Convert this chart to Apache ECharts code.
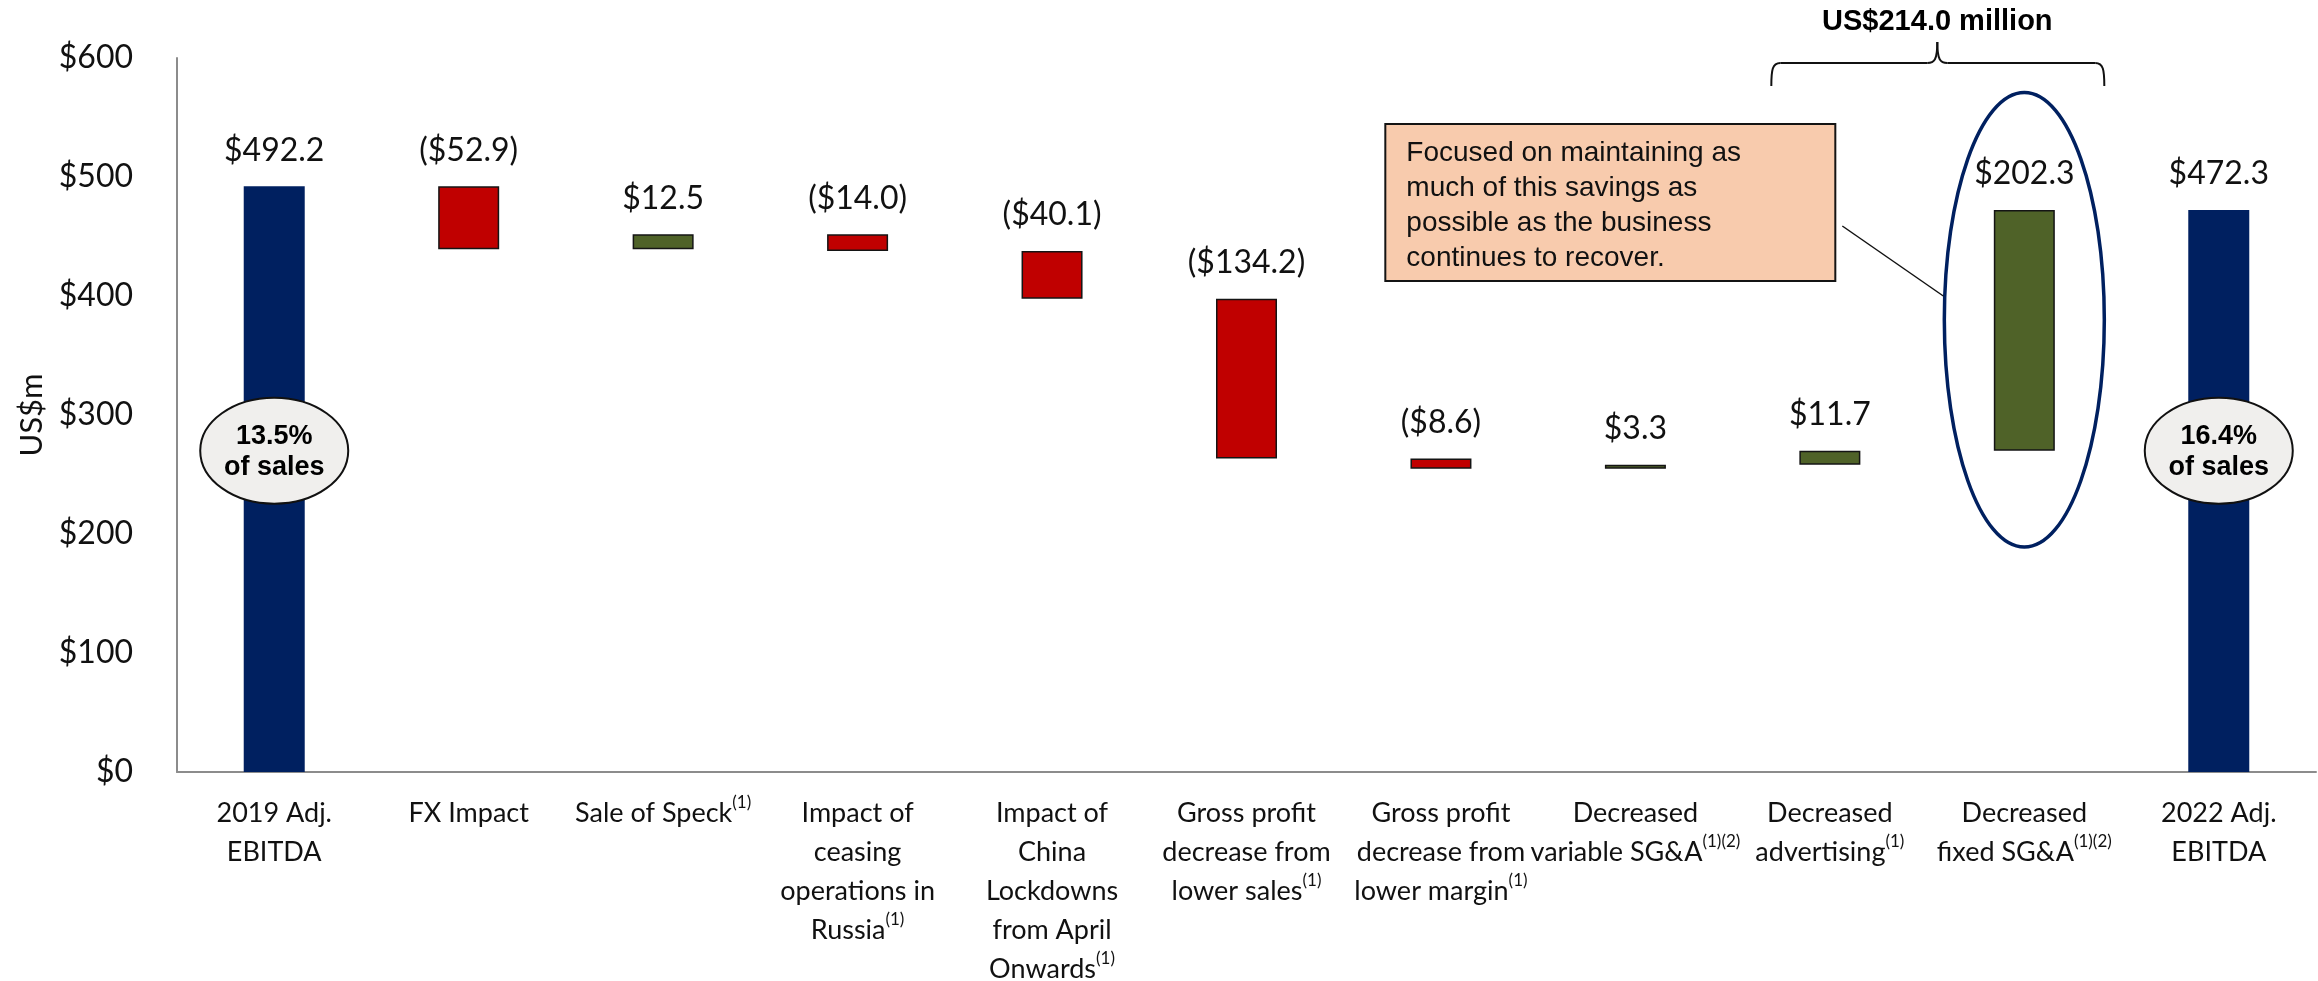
<!DOCTYPE html>
<html>
<head>
<meta charset="utf-8">
<script src="https://cdn.jsdelivr.net/npm/echarts@6/dist/echarts.min.js"></script>
<style>
  html, body { margin: 0; padding: 0; background: #ffffff; }
  #chart { width: 2318px; height: 981px; }
</style>
</head>
<body>
<div id="chart"></div>
<script>
// EBITDA bridge, 2019 -> 2022 (US$m)
const categories = [
  '2019 Adj.\nEBITDA',
  'FX Impact',
  'Sale of Speck',
  'Impact of\nceasing\noperations in\nRussia',
  'Impact of\nChina\nLockdowns\nfrom April\nOnwards',
  'Gross profit\ndecrease from\nlower sales',
  'Gross profit\ndecrease from\nlower margin',
  'Decreased\nvariable SG&A',
  'Decreased\nadvertising',
  'Decreased\nfixed SG&A',
  '2022 Adj.\nEBITDA'
];
const footnotes = ['', '', '(1)', '(1)', '(1)', '(1)', '(1)', '(1)(2)', '(1)', '(1)(2)', ''];
const changes = [492.2, -52.9, 12.5, -14.0, -40.1, -134.2, -8.6, 3.3, 11.7, 202.3, 472.3];
const isTotal = [true, false, false, false, false, false, false, false, false, false, true];
const yTicks = [0, 100, 200, 300, 400, 500, 600];
const marginLabels = ['13.5%\nof sales', '16.4%\nof sales'];
const savingsLabel = 'US$214.0 million';
const calloutText = 'Focused on maintaining as\nmuch of this savings as\npossible as the business\ncontinues to recover.';

const NAVY = '#002060', RED = '#C00000', GREEN = '#4F6228';

// floating bars: invisible base + visible step
const baseVals = [], stepVals = [];
let running = 0;
changes.forEach((v, i) => {
  if (isTotal[i]) {
    baseVals.push(0);
    stepVals.push({ value: v, itemStyle: { color: NAVY, borderWidth: 0 } });
    running = v;
  } else {
    const end = running + v;
    baseVals.push(Math.min(running, end));
    stepVals.push({
      value: Math.abs(v),
      itemStyle: { color: v < 0 ? RED : GREEN, borderColor: '#141414', borderWidth: 1.5 }
    });
    running = end;
  }
});

const fmtMoney = (v, total) => {
  const s = '$' + Math.abs(v).toFixed(1);
  return (!total && v < 0) ? '(' + s + ')' : s;
};

const chart = echarts.init(document.getElementById('chart'), null, { renderer: 'canvas' });
const LABEL_FONT = 'Lato, "Open Sans", sans-serif';

chart.setOption({
  animation: false,
  backgroundColor: '#ffffff',
  grid: { left: 177, right: 2, top: 58, bottom: 209, containLabel: false, outerBoundsMode: 'none' },
  xAxis: {
    type: 'category',
    data: categories,
    axisLine: { lineStyle: { color: '#8c8c8c', width: 2 } },
    axisTick: { show: false },
    axisLabel: {
      interval: 0,
      margin: 22,
      color: '#111111',
      fontFamily: LABEL_FONT,
      fontSize: 27,
      lineHeight: 39,
      formatter: (val, idx) => footnotes[idx] ? val + '{sup|' + footnotes[idx] + '}' : val,
      rich: {
        sup: { fontFamily: LABEL_FONT, fontSize: 17, lineHeight: 39, verticalAlign: 'top', color: '#111111' }
      }
    }
  },
  yAxis: {
    type: 'value',
    min: yTicks[0],
    max: yTicks[yTicks.length - 1],
    interval: yTicks[1] - yTicks[0],
    name: 'US$m',
    nameLocation: 'middle',
    nameGap: 130,
    nameTextStyle: { fontFamily: LABEL_FONT, fontSize: 31, color: '#111111' },
    axisLine: { show: true, lineStyle: { color: '#8c8c8c', width: 2 } },
    axisTick: { show: false },
    splitLine: { show: false },
    axisLabel: {
      margin: 44,
      color: '#111111',
      fontFamily: LABEL_FONT,
      fontSize: 32,
      formatter: v => '$' + v
    }
  },
  series: [
    {
      type: 'bar', stack: 'bridge', barWidth: 61, silent: true,
      itemStyle: { color: 'rgba(0,0,0,0)' },
      data: baseVals
    },
    {
      type: 'bar', stack: 'bridge', barWidth: 61, silent: true,
      data: stepVals,
      label: {
        show: true,
        position: 'top',
        distance: 20,
        fontFamily: LABEL_FONT,
        fontSize: 32,
        color: '#111111',
        formatter: p => fmtMoney(changes[p.dataIndex], isTotal[p.dataIndex])
      }
    }
  ]
});

// annotations anchored to the axes
const px = (c, v) => chart.convertToPixel({ gridIndex: 0 }, [c, v]);
const first = 0, last = categories.length - 1, fixedIdx = 9;
const marginLevel = 270;
const ringCenter = 380, ringHalf = 191;

const graphics = [];
[first, last].forEach((ci, k) => {
  const [cx, cy] = px(ci, marginLevel);
  graphics.push({
    type: 'ellipse', z: 100,
    shape: { cx: cx, cy: cy, rx: 74, ry: 53 },
    style: { fill: '#F0EFED', stroke: '#111111', lineWidth: 2 }
  });
  graphics.push({
    type: 'text', z: 101,
    style: {
      text: marginLabels[k], x: cx, y: cy + 1,
      align: 'center', verticalAlign: 'middle',
      font: 'bold 27px "Liberation Sans", Arial, sans-serif',
      lineHeight: 31, fill: '#000000'
    }
  });
});

const [rx9, ryC] = px(fixedIdx, ringCenter);
const ryTop = px(fixedIdx, ringCenter + ringHalf)[1];
const ringRy = ryC - ryTop;
graphics.push({
  type: 'ellipse', z: 100,
  shape: { cx: rx9, cy: ryC, rx: 80, ry: ringRy },
  style: { fill: 'none', stroke: NAVY, lineWidth: 3.5 }
});

// curly bracket above the savings
const bL = rx9 - 253, bR = rx9 + 80, bM = rx9 - 87, bY = 63, bEnd = 86, bPip = 42;
const bracketStyle = { fill: 'none', stroke: '#111111', lineWidth: 2 };
const curve = (x1, y1, cpx1, cpy1, cpx2, cpy2, x2, y2) => ({
  type: 'bezierCurve', z: 100, style: bracketStyle,
  shape: { x1, y1, cpx1, cpy1, cpx2, cpy2, x2, y2 }
});
const seg = (x1, y1, x2, y2) => ({
  type: 'line', z: 100, style: bracketStyle, shape: { x1, y1, x2, y2 }
});
graphics.push(
  curve(bL, bEnd, bL, 70, bL + 1, bY, bL + 9, bY),
  seg(bL + 9, bY, bM - 10, bY),
  curve(bM - 10, bY, bM - 3, bY, bM, bY - 3, bM, bPip),
  curve(bM, bPip, bM, bY - 3, bM + 3, bY, bM + 10, bY),
  seg(bM + 10, bY, bR - 9, bY),
  curve(bR - 9, bY, bR - 1, bY, bR, 70, bR, bEnd)
);
graphics.push({
  type: 'text', z: 101,
  style: {
    text: savingsLabel, x: bM, y: 22, align: 'center', verticalAlign: 'middle',
    font: 'bold 29px "Liberation Sans", Arial, sans-serif', fill: '#000000'
  }
});

// callout box and its leader line
const boxX = rx9 - 639, boxY = 124;
graphics.push({
  type: 'rect', z: 100,
  shape: { x: boxX, y: boxY, width: 450, height: 157 },
  style: { fill: '#F8CBAD', stroke: '#141414', lineWidth: 2 }
});
graphics.push({
  type: 'text', z: 101,
  style: {
    text: calloutText, x: boxX + 21, y: boxY + 12,
    align: 'left', verticalAlign: 'top',
    font: '28px "Liberation Sans", Arial, sans-serif', lineHeight: 35, fill: '#111111'
  }
});
graphics.push({
  type: 'line', z: 100,
  shape: { x1: boxX + 457, y1: 226, x2: rx9 - 81, y2: 296 },
  style: { stroke: '#111111', lineWidth: 1.5 }
});

chart.setOption({ graphic: { elements: graphics } });
</script>
</body>
</html>
